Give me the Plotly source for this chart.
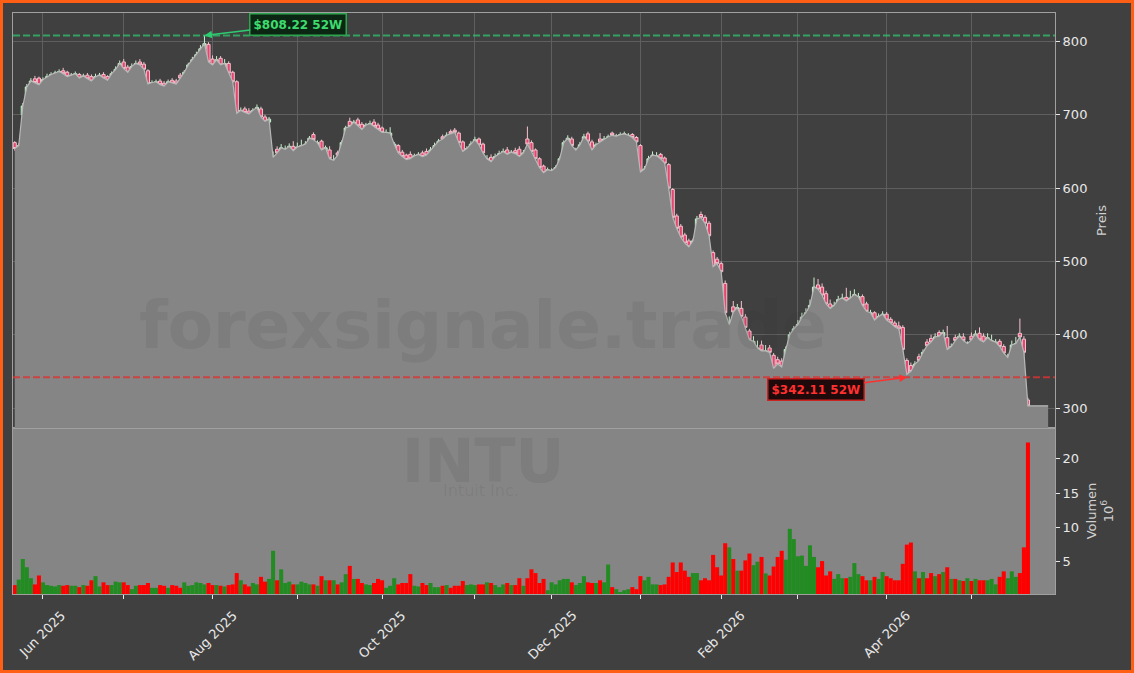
import numpy as np
import pandas as pd
import plotly.graph_objects as go

# ---------------- data ----------------
holidays = ["2025-05-26", "2025-06-19", "2025-07-04", "2025-09-01", "2025-11-27",
            "2025-12-25", "2026-01-01", "2026-01-19", "2026-02-16", "2026-04-03"]
dates = [d for d in pd.bdate_range("2025-05-21", "2026-05-21")
         if d.strftime("%Y-%m-%d") not in holidays]

open_ = [
    662, 655, 700, 714, 738, 749, 750, 744, 749, 752,
    754, 756, 760, 758, 751, 753, 755, 750, 754, 752,
    747, 751, 755, 752, 749, 756, 760, 772, 765, 760,
    766, 772, 769, 760, 741, 742, 746, 743, 740, 747,
    746, 754, 750, 758, 768, 775, 783, 790, 796, 776,
    769, 777, 766, 770, 758, 745, 699, 708, 705, 702,
    704, 708, 697, 690, 636, 653, 649, 650, 652, 657,
    652, 654, 656, 660, 673, 659, 664, 651, 652, 634,
    648, 646, 664, 691, 685, 693, 687, 681, 684, 690,
    686, 682, 673, 671, 654, 658, 649, 645, 646, 640,
    643, 648, 650, 646, 652, 658, 670, 667, 677, 679,
    675, 663, 650, 654, 660, 667, 660, 636, 642, 637,
    643, 646, 652, 646, 651, 653, 644, 667, 662, 652,
    640, 630, 622, 621, 624, 628, 642, 662, 667, 648,
    653, 660, 674, 663, 653, 667, 663, 666, 675, 669,
    671, 672, 670, 673, 669, 658, 621, 627, 640, 641,
    646, 641, 632, 598, 562, 548, 536, 528, 520, 530,
    564, 560, 552, 512, 503, 497, 470, 405, 438, 430,
    436, 424, 405, 388, 378, 386, 374, 382, 372, 366,
    364, 358, 380, 399, 406, 413, 423, 430, 442, 468,
    465, 456, 442, 435, 440, 446, 451, 446, 447, 448,
    452, 442, 425, 430, 420, 423, 428, 421, 416, 412,
    410, 365, 358, 350, 370, 368, 390, 395, 390, 403,
    398, 396, 379, 396, 392, 397, 384, 398, 396, 402,
    398, 391, 388, 387, 391, 384, 365, 372, 384, 402,
    394, 311,
]
high = [
    664, 661, 716, 742, 750, 753, 752, 751, 756, 758,
    760, 762, 764, 760, 757, 759, 757, 756, 757, 755,
    756, 757, 758, 754, 759, 766, 774, 776, 768, 770,
    774, 776, 772, 762, 747, 748, 749, 746, 748, 750,
    749, 757, 761, 771, 779, 786, 795, 808.22, 799, 781,
    780, 780, 776, 773, 760, 747, 710, 711, 709, 709,
    714, 711, 700, 697, 650, 657, 660, 658, 661, 664,
    662, 666, 664, 671, 676, 665, 666, 658, 657, 645,
    651, 665, 685, 696, 693, 696, 690, 689, 692, 694,
    689, 684, 680, 683, 663, 660, 652, 647, 650, 647,
    649, 651, 654, 656, 662, 667, 673, 676, 680, 682,
    677, 665, 657, 664, 670, 669, 662, 645, 646, 647,
    651, 654, 656, 652, 655, 657, 652, 684, 665, 654,
    642, 632, 628, 627, 631, 643, 665, 672, 670, 655,
    663, 674, 677, 666, 662, 675, 671, 673, 677, 674,
    676, 677, 675, 675, 671, 660, 630, 644, 650, 649,
    648, 643, 634, 600, 565, 551, 539, 531, 531, 562,
    568, 563, 555, 515, 506, 500, 474, 425, 446, 442,
    446, 428, 408, 398, 392, 392, 386, 386, 375, 370,
    368, 384, 404, 412, 420, 430, 436, 448, 478, 476,
    470, 460, 448, 445, 453, 456, 464, 460, 462, 457,
    455, 445, 434, 432, 429, 432, 431, 424, 419, 418,
    413, 368, 362, 364, 374, 380, 394, 400, 402, 406,
    407, 412, 388, 400, 402, 402, 391, 403, 406, 410,
    402, 402, 400, 394, 394, 387, 374, 392, 397, 422,
    398, 314,
]
low = [
    651, 652, 698, 711, 735, 741, 739, 742, 747, 750,
    752, 754, 754, 750, 749, 751, 748, 748, 747, 744,
    745, 749, 748, 745, 747, 754, 758, 761, 756, 758,
    764, 766, 760, 740, 739, 740, 739, 737, 738, 741,
    740, 748, 749, 756, 766, 773, 781, 788, 769, 765,
    766, 765, 763, 755, 742, 698, 695, 700, 698, 700,
    702, 694, 688, 686, 632, 645, 646, 647, 650, 649,
    650, 652, 653, 658, 664, 656, 650, 648, 637, 631,
    641, 644, 662, 680, 682, 683, 678, 679, 682, 681,
    677, 673, 671, 669, 652, 645, 641, 637, 637, 638,
    641, 641, 643, 644, 650, 656, 664, 665, 672, 674,
    660, 648, 648, 652, 658, 656, 645, 632, 633, 635,
    641, 644, 644, 643, 645, 641, 642, 656, 648, 637,
    625, 618, 620, 619, 622, 626, 640, 659, 655, 646,
    651, 658, 662, 649, 650, 660, 661, 664, 670, 667,
    669, 670, 668, 666, 660, 619, 618, 625, 638, 638,
    637, 631, 597, 556, 542, 530, 522, 517, 518, 528,
    556, 549, 532, 490, 494, 483, 426, 400, 428, 427,
    422, 407, 390, 384, 375, 375, 371, 373, 350, 355,
    352, 355, 377, 395, 402, 410, 420, 427, 440, 458,
    451, 438, 433, 432, 437, 444, 444, 443, 444, 445,
    437, 428, 422, 416, 417, 420, 418, 414, 409, 405,
    377, 342.11, 345, 348, 362, 365, 382, 387, 388, 395,
    396, 377, 376, 389, 390, 389, 381, 390, 393, 391,
    387, 388, 386, 385, 381, 372, 363, 370, 381, 394,
    372, 301,
]
close = [
    654, 658, 712, 738, 746, 744, 741, 748, 752, 755,
    757, 759, 756, 752, 754, 756, 750, 753, 749, 746,
    752, 754, 750, 747, 756, 762, 770, 763, 758, 766,
    770, 768, 762, 742, 744, 745, 741, 739, 745, 743,
    742, 750, 758, 768, 775, 782, 790, 797, 772, 768,
    775, 768, 770, 757, 745, 702, 706, 703, 701, 706,
    710, 697, 691, 694, 642, 648, 655, 653, 657, 651,
    656, 658, 660, 668, 666, 662, 652, 655, 640, 638,
    645, 662, 682, 684, 690, 685, 680, 686, 688, 684,
    680, 676, 676, 675, 660, 648, 643, 639, 640, 644,
    646, 643, 645, 652, 658, 664, 667, 672, 674, 676,
    662, 650, 654, 660, 666, 659, 648, 640, 636, 643,
    647, 650, 646, 649, 647, 643, 648, 660, 650, 640,
    628, 621, 625, 624, 628, 640, 662, 668, 658, 652,
    659, 670, 664, 652, 659, 663, 667, 670, 672, 671,
    673, 674, 672, 669, 663, 622, 626, 640, 645, 644,
    640, 634, 600, 560, 545, 533, 525, 520, 528, 558,
    560, 552, 535, 493, 497, 486, 430, 414, 431, 437,
    425, 410, 393, 391, 382, 378, 378, 376, 354, 360,
    356, 380, 400, 408, 414, 424, 430, 440, 465, 462,
    454, 442, 436, 440, 448, 450, 446, 450, 455, 452,
    440, 432, 430, 420, 425, 428, 420, 416, 411, 408,
    380, 346, 350, 360, 365, 376, 385, 390, 397, 398,
    403, 380, 384, 392, 398, 392, 388, 393, 401, 393,
    390, 396, 392, 390, 384, 375, 369, 386, 388, 397,
    376, 303,
]
volume = [  # in millions
    1.6, 2.4, 5.4, 4.2, 2.6, 1.7, 3.0, 2.0, 1.6, 1.5,
    1.4, 1.6, 1.5, 1.6, 1.5, 1.5, 1.3, 1.6, 1.5, 2.3,
    2.9, 1.4, 2.0, 1.6, 1.6, 2.1, 2.0, 2.0, 1.6, 1.0,
    1.5, 1.6, 1.6, 1.9, 1.2, 1.2, 1.6, 1.5, 1.2, 1.6,
    1.5, 1.2, 2.0, 1.5, 1.6, 2.0, 1.9, 1.7, 1.9, 1.6,
    1.6, 1.5, 1.4, 1.6, 1.7, 3.35, 2.3, 1.7, 1.4, 1.9,
    1.7, 2.8, 2.1, 2.5, 6.6, 2.3, 3.9, 1.9, 2.1, 1.7,
    1.7, 2.1, 1.9, 1.7, 1.7, 1.5, 2.9, 2.3, 2.3, 2.3,
    1.7, 2.0, 3.2, 4.4, 2.5, 2.5, 1.9, 1.7, 1.6, 1.9,
    2.5, 2.3, 1.2, 1.5, 2.6, 1.7, 1.9, 1.9, 3.2, 1.5,
    1.4, 1.9, 1.6, 1.9, 1.3, 1.3, 1.5, 1.6, 1.2, 1.5,
    1.5, 2.2, 1.6, 1.7, 1.6, 1.7, 1.7, 2.0, 1.9, 1.6,
    1.3, 1.7, 1.9, 1.6, 1.6, 2.6, 1.5, 2.6, 3.9, 3.35,
    1.9, 2.5, 0.85, 2.0, 1.7, 2.3, 2.5, 2.5, 2.0, 1.6,
    1.9, 2.9, 2.0, 1.9, 1.9, 2.3, 2.0, 4.6, 1.3, 1.0,
    0.6, 0.85, 1.0, 1.3, 1.0, 2.9, 2.3, 2.8, 1.7, 1.7,
    1.6, 1.7, 2.8, 4.9, 3.5, 4.9, 3.7, 2.8, 3.35, 3.35,
    2.3, 2.6, 2.3, 6.0, 4.2, 3.0, 7.7, 7.1, 5.4, 3.7,
    3.7, 5.2, 6.2, 4.5, 5.0, 5.7, 3.3, 3.0, 4.3, 5.7,
    6.6, 5.3, 9.8, 8.3, 5.8, 5.9, 4.4, 7.4, 5.7, 4.2,
    5.1, 3.0, 3.6, 2.5, 3.2, 2.6, 2.6, 2.8, 4.8, 3.2,
    2.9, 2.3, 2.3, 2.8, 2.5, 3.5, 2.9, 2.6, 2.3, 2.3,
    4.7, 7.5, 7.8, 3.6, 2.6, 3.5, 2.6, 3.35, 2.9, 3.2,
    3.5, 4.2, 2.5, 2.5, 2.3, 2.2, 2.6, 2.2, 2.5, 2.3,
    2.3, 2.3, 2.5, 1.7, 2.8, 3.6, 2.6, 3.6, 2.8, 3.35,
    7.1, 22.4,
]

ticker = "INTU"
company = "Intuit Inc."
watermark = "forexsignale.trade"

# ---------------- derived ----------------
n = min(len(close), len(open_), len(high), len(low), len(volume), len(dates))
idx = np.arange(n)
o = np.array(open_[:n]); h = np.array(high[:n]); l = np.array(low[:n]); c = np.array(close[:n])
v = np.array(volume[:n])
up = c >= o
vol_colors = np.where(up, "#228B22", "#FF0000")

# fill continues a few slots past the last candle at the last close
ext = 5
fill_x = np.concatenate([idx, np.arange(n, n + ext)])
fill_y = np.concatenate([c, np.full(ext, c[-1])])

# 52-week extremes over the window before the latest session
hi_i = int(np.argmax(h[:-1])); hi_v = float(h[hi_i])
lo_i = int(np.argmin(l[:-1])); lo_v = float(l[lo_i])

# month ticks
tickvals, ticktext = [], []
prev = None
for i, d in enumerate(dates[:n]):
    key = (d.year, d.month)
    if prev is not None and key != prev:
        tickvals.append(i)
        ticktext.append(d.strftime("%b %Y") if d.month % 2 == 0 else "")
    prev = key

# ---------------- figure ----------------
W, H = 1134, 673
ML, MR, MT, MB = 13, 79, 13, 79
PW, PH = W - ML - MR, H - MT - MB
split = 166 / PH  # volume panel height fraction

DARK = "#404040"
FILL = "#858585"
GRID = "#5f5f5f"
FRAME = "#a0a0a0"
TXT = "#e8e8e8"
FONT = "DejaVu Sans"

fig = go.Figure()

fig.add_trace(go.Scatter(
    x=fill_x, y=fill_y, xaxis="x2", yaxis="y2", mode="lines",
    fill="tozeroy", fillcolor=FILL, line=dict(color="#b8b8b8", width=1.2),
    hoverinfo="skip", showlegend=False))

fig.add_trace(go.Candlestick(
    x=idx, open=o, high=h, low=l, close=c, xaxis="x2", yaxis="y2",
    whiskerwidth=0,
    increasing=dict(line=dict(color="#c8f2cc", width=1), fillcolor="#56d072"),
    decreasing=dict(line=dict(color="#f6c2cf", width=1), fillcolor="#e4466e"),
    showlegend=False))

fig.add_trace(go.Bar(
    x=idx, y=v, xaxis="x", yaxis="y", width=1.0,
    marker=dict(color=vol_colors, line=dict(width=0)), showlegend=False))

xr = [-0.43, 257.7]
axis_common = dict(showline=True, mirror=True, linecolor=FRAME, linewidth=1,
                   automargin=False,
                   tickfont=dict(family=FONT, size=13, color=TXT), zeroline=False)

fig.update_layout(
    width=W, height=H,
    margin=dict(l=ML, r=MR, t=MT, b=MB, pad=0, autoexpand=False),
    paper_bgcolor=DARK, plot_bgcolor=DARK,
    font=dict(family=FONT, size=13, color=TXT),
    showlegend=False,
    boxgap=0.22, boxgroupgap=0,
    xaxis=dict(domain=[0, 1], anchor="y", range=xr, tickmode="array",
               tickvals=tickvals, ticktext=ticktext, showticklabels=False,
               ticks="outside", ticklen=4, tickcolor=TXT, showgrid=False,
               rangeslider=dict(visible=False), **axis_common),
    yaxis=dict(domain=[0, split], anchor="x", side="right", range=[0.3, 24.5],
               tickvals=[5, 10, 15, 20], ticks="outside", ticklen=4, tickcolor=TXT,
               showgrid=False,
               title=dict(text="Volumen<br>10<sup>6</sup>", standoff=8,
                          font=dict(family=FONT, size=13, color="#d0d0d0")),
               **axis_common),
    xaxis2=dict(domain=[0, 1], anchor="y2", matches="x", range=xr,
                tickmode="array", tickvals=tickvals, showticklabels=False,
                ticks="", showgrid=True, gridcolor=GRID, gridwidth=1,
                rangeslider=dict(visible=False), **axis_common),
    yaxis2=dict(domain=[split, 1], anchor="x2", side="right", range=[272.8, 838.8],
                tickvals=[300, 400, 500, 600, 700, 800], ticks="outside", ticklen=4,
                tickcolor=TXT, showgrid=True, gridcolor=GRID, gridwidth=1,
                title=dict(text="Preis", standoff=10,
                           font=dict(family=FONT, size=13, color="#d0d0d0")),
                **axis_common),
)

shapes = [
    # volume panel background
    dict(type="rect", xref="paper", yref="paper", x0=0, x1=1, y0=0, y1=split,
         fillcolor=FILL, line=dict(width=0), layer="below"),
    # 52W high / low lines
    dict(type="line", xref="paper", yref="y2", x0=0, x1=1, y0=hi_v, y1=hi_v,
         line=dict(color="rgba(46,204,113,0.7)", width=2, dash="7px,3px"), layer="above"),
    dict(type="line", xref="paper", yref="y2", x0=0, x1=1, y0=lo_v, y1=lo_v,
         line=dict(color="rgba(220,50,50,0.8)", width=2, dash="7px,3px"), layer="above"),
    # orange frame around the figure
    dict(type="rect", xref="paper", yref="paper",
         x0=(1.5 - ML) / PW, x1=(W - 1.5 - ML) / PW,
         y0=(MT + PH - (H - 1.5)) / PH, y1=(MT + PH - 1.5) / PH,
         line=dict(color="#ff5f15", width=3), fillcolor="rgba(0,0,0,0)", layer="above"),
]
fig.update_layout(shapes=shapes)

def px_to_paper(px, py):
    return (px - ML) / PW, (MT + PH - py) / PH

wm_col = "rgba(45,45,45,0.09)"
ax1, ay1 = px_to_paper(482.5, 325.5)
ax2, ay2 = px_to_paper(482.5, 461.0)
ax3, ay3 = px_to_paper(480.5, 490.0)

annotations = [
    dict(text=watermark, xref="paper", yref="paper", x=ax1, y=ay1, showarrow=False,
         xanchor="center", yanchor="middle",
         font=dict(family=FONT, size=66, color=wm_col, weight="bold")),
    dict(text=ticker, xref="paper", yref="paper", x=ax2, y=ay2, showarrow=False,
         xanchor="center", yanchor="middle",
         font=dict(family=FONT, size=60, color=wm_col, weight="bold")),
    dict(text=company, xref="paper", yref="paper", x=ax3, y=ay3, showarrow=False,
         xanchor="center", yanchor="middle",
         font=dict(family=FONT, size=16, color=wm_col)),
    dict(text=f"${hi_v:.2f} 52W", xref="x2", yref="y2", x=hi_i, y=hi_v,
         ax=94, ay=-11, showarrow=True, arrowhead=2, arrowsize=1, arrowwidth=1.5,
         arrowcolor="#2ecc71", bgcolor="#0c2614", bordercolor="#2ea44f",
         borderwidth=1.5, borderpad=3,
         font=dict(family=FONT, size=12, color="#3ddc6e", weight="bold")),
    dict(text=f"${lo_v:.2f} 52W", xref="x2", yref="y2", x=lo_i, y=lo_v,
         ax=-91, ay=12, showarrow=True, arrowhead=2, arrowsize=1, arrowwidth=1.5,
         arrowcolor="#ff3030", bgcolor="#1e0a0a", bordercolor="#cc2222",
         borderwidth=1.5, borderpad=3,
         font=dict(family=FONT, size=12, color="#ff3030", weight="bold")),
]

# x tick labels centred under their ticks, rotated 45 degrees
_, lab_y = px_to_paper(0, 605)
for tv, tt in zip(tickvals, ticktext):
    if tt:
        annotations.append(dict(
            text=tt, xref="x", yref="paper", x=tv, y=lab_y, showarrow=False,
            textangle=-45, xanchor="center", yanchor="top",
            font=dict(family=FONT, size=13, color=TXT)))

fig.update_layout(annotations=annotations)

fig.write_html(
    "out.html",
    config={"displayModeBar": False},
    post_script="document.body.style.margin='0';document.body.style.padding='0';"
                "document.body.style.background='" + DARK + "';",
)
